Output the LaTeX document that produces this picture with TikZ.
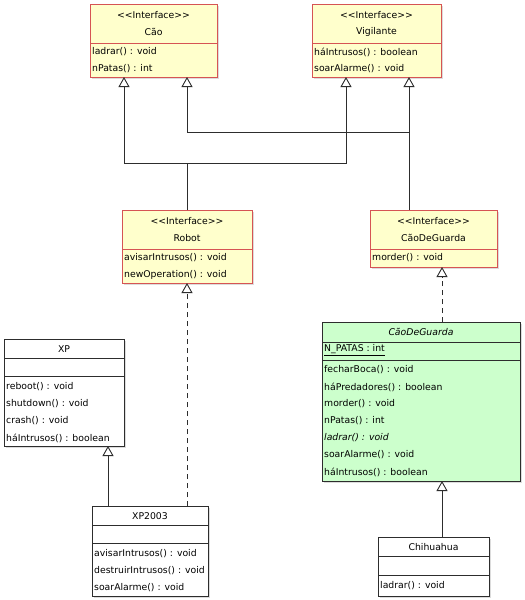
\documentclass[tikz,border=0pt]{standalone}
\usepackage{fontspec}
\setmainfont{DejaVu Sans}
\usetikzlibrary{arrows.meta}
\definecolor{ifill}{RGB}{255,255,204}
\definecolor{iline}{RGB}{214,84,84}
\definecolor{gfill}{RGB}{204,255,204}
\definecolor{cline}{RGB}{45,45,45}
\definecolor{shad}{RGB}{220,220,220}
\newcommand\fsz{\fontsize{9.3}{10}\selectfont}
\newcommand\stereo{<{}<Interface>{}>}
\tikzset{
  ibox/.style={draw=iline, fill=ifill, line width=0.9pt},
  cbox/.style={draw=cline, fill=white, line width=0.9pt},
  gbox/.style={draw=cline, fill=gfill, line width=0.9pt},
  isep/.style={draw=iline, line width=0.9pt},
  csep/.style={draw=cline, line width=0.9pt},
  txt/.style={anchor=west, inner sep=0pt, font=\fsz},
  ttl/.style={anchor=center, inner sep=0pt, font=\fsz},
  conn/.style={draw=cline, line width=0.9pt},
  inh/.style={conn, -{Triangle[open, width=11pt, length=10pt, line width=0.9pt]}},
  real/.style={inh, dash pattern=on 5pt off 4pt},
}
\newcommand\umlbox[6]{%
  \fill[shad] (#2+2,#3+2) rectangle (#4+2,#5+2);
  \node[#6, inner sep=0pt, outer sep=0pt, minimum width={(#4-#2)*1pt}, minimum height={(#5-#3)*1pt}] (#1) at ({(#2+#4)/2},{(#3+#5)/2}) {};
}
\begin{document}
\begin{tikzpicture}[x=1pt,y=-1pt]
\useasboundingbox[fill=white] (0,0) rectangle (525,600);

% ---------- Cão ----------
\umlbox{cao}{90}{4}{217}{77}{ibox}
\node[ttl] (cao-s) at (153.5,15) {\stereo};
\node[ttl] (cao-n) at (153.5,32) {Cão};
\draw[isep] (90,43) -- (217,43);
\node[txt] (cao-m1) at (92,52) {ladrar() : void};
\node[txt] (cao-m2) at (92,69) {nPatas() : int};

% ---------- Vigilante ----------
\umlbox{vig}{312}{4}{441}{77}{ibox}
\node[ttl] (vig-s) at (376.5,15) {\stereo};
\node[ttl] (vig-n) at (376.5,32) {Vigilante};
\draw[isep] (312,43) -- (441,43);
\node[txt] (vig-m1) at (314,52) {háIntrusos() : boolean};
\node[txt] (vig-m2) at (314,69) {soarAlarme() : void};

% ---------- Robot ----------
\umlbox{robot}{122}{210}{252}{283}{ibox}
\node[ttl] (rob-s) at (187,221) {\stereo};
\node[ttl] (rob-n) at (187,238) {Robot};
\draw[isep] (122,249) -- (252,249);
\node[txt] (rob-m1) at (124,258) {avisarIntrusos() : void};
\node[txt] (rob-m2) at (124,275) {newOperation() : void};

% ---------- CãoDeGuarda (interface) ----------
\umlbox{cdgi}{370}{210}{497}{267}{ibox}
\node[ttl] (cdgi-s) at (433.5,221) {\stereo};
\node[ttl] (cdgi-n) at (433.5,238) {CãoDeGuarda};
\draw[isep] (370,249) -- (497,249);
\node[txt] (cdgi-m1) at (372,258) {morder() : void};

% ---------- XP ----------
\umlbox{xp}{4}{339}{124}{446}{cbox}
\node[ttl] (xp-n) at (64,349) {XP};
\draw[csep] (4,358) -- (124,358);
\draw[csep] (4,376) -- (124,376);
\node[txt] (xp-m1) at (6,387) {reboot() : void};
\node[txt] (xp-m2) at (6,404) {shutdown() : void};
\node[txt] (xp-m3) at (6,421) {crash() : void};
\node[txt] (xp-m4) at (6,438) {háIntrusos() : boolean};

% ---------- XP2003 ----------
\umlbox{xp2003}{92}{506}{208}{596}{cbox}
\node[ttl] (xp3-n) at (150,516) {XP2003};
\draw[csep] (92,525) -- (208,525);
\draw[csep] (92,543) -- (208,543);
\node[txt] (xp3-m1) at (94,554) {avisarIntrusos() : void};
\node[txt] (xp3-m2) at (94,571) {destruirIntrusos() : void};
\node[txt] (xp3-m3) at (94,588) {soarAlarme() : void};

% ---------- CãoDeGuarda (class) ----------
\umlbox{cdg}{322}{322}{520}{481}{gbox}
\node[ttl, font=\fsz\itshape] (cdg-n) at (421,332) {CãoDeGuarda};
\draw[csep] (322,342) -- (520,342);
\node[txt] (cdg-a1) at (324,350) {\underline{N\_PATAS : int}};
\draw[csep] (322,360) -- (520,360);
\node[txt] (cdg-m1) at (324,370) {fecharBoca() : void};
\node[txt] (cdg-m2) at (324,387) {háPredadores() : boolean};
\node[txt] (cdg-m3) at (324,404) {morder() : void};
\node[txt] (cdg-m4) at (324,421) {nPatas() : int};
\node[txt, font=\fsz\itshape] (cdg-m5) at (324,438) {ladrar() : void};
\node[txt] (cdg-m6) at (324,455) {soarAlarme() : void};
\node[txt] (cdg-m7) at (324,472) {háIntrusos() : boolean};

% ---------- Chihuahua ----------
\umlbox{chi}{378}{537}{489}{596}{cbox}
\node[ttl] (chi-n) at (433.5,547) {Chihuahua};
\draw[csep] (378,556) -- (489,556);
\draw[csep] (378,575) -- (489,575);
\node[txt] (chi-m1) at (380,586) {ladrar() : void};

% ---------- connectors ----------
\coordinate (j1) at (124,163);
\coordinate (j2) at (346,163);
\coordinate (k1) at (409,132);
\coordinate (k2) at (187,132);
\coordinate (m1) at (108,480);
\coordinate (m2) at (442,300);

\draw[inh] (robot.north) |- (j1) -- (j1 |- cao.south);
\draw[inh] (robot.north) |- (j2) -- (j2 |- vig.south);
\draw[inh] (k1 |- cdgi.north) -- (k1 |- vig.south);
\draw[inh] (k1) -- (k2) -- (k2 |- cao.south);
\draw[real] (robot.south |- xp2003.north) -- (robot.south);
\draw[inh] (m1 |- xp2003.north) -- (m1 |- xp.south);
\draw[real] (m2 |- cdg.north) -- (m2 |- cdgi.south);
\draw[inh] (m2 |- chi.north) -- (m2 |- cdg.south);
\end{tikzpicture}
\end{document}
